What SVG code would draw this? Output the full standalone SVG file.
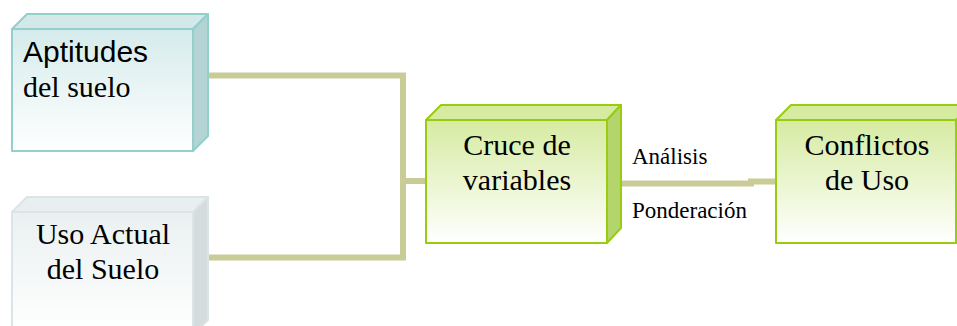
<svg xmlns="http://www.w3.org/2000/svg" width="957" height="326" viewBox="0 0 957 326">
<defs>
<linearGradient id="gTeal" x1="0" y1="0" x2="0" y2="1">
<stop offset="0" stop-color="#d5ebeb"/><stop offset="1" stop-color="#ffffff"/>
</linearGradient>
<linearGradient id="gGray" x1="0" y1="0" x2="0" y2="1">
<stop offset="0" stop-color="#eaf0f1"/><stop offset="1" stop-color="#ffffff"/>
</linearGradient>
<linearGradient id="gGreen" x1="0" y1="0" x2="0" y2="1">
<stop offset="0" stop-color="#d6eba1"/><stop offset="1" stop-color="#ffffff"/>
</linearGradient>
<style>
.conn{fill:none;stroke:#cacc98;stroke-width:6}
.face{stroke-width:2;stroke-linejoin:round}
</style>
</defs>
<g id="connectors">
<polyline class="conn" points="208,75.5 403,75.5 403,257.5 208,257.5"/>
<line class="conn" x1="403" y1="181" x2="426" y2="181"/>
<polyline class="conn" points="621,183.5 751,183.5 751,181.5 776,181.5"/>
</g>
<g id="node-aptitudes">
<g class="face" stroke="#93cfcb">
<polygon fill="#d3e9e9" points="12,29 27,14 208,14 193,29"/>
<polygon fill="#b4d3d4" points="193,29 208,14 208,136 193,151"/>
<rect fill="url(#gTeal)" x="12" y="29" width="181" height="122"/>
</g>
<text font-family="'Liberation Sans'" font-size="30" x="23" y="62">Aptitudes</text>
<text font-family="'Liberation Serif'" font-size="30" x="23" y="97">del suelo</text>
</g>
<g id="node-uso-actual">
<g class="face" stroke="#dbe4e6">
<polygon fill="#e9eff0" points="12,212 27,197 208,197 193,212"/>
<polygon fill="#d4dcde" points="193,212 208,197 208,320 193,335"/>
<rect fill="url(#gGray)" x="12" y="212" width="181" height="123"/>
</g>
<text font-family="'Liberation Serif'" font-size="30" text-anchor="middle" x="103" y="244">Uso Actual</text>
<text font-family="'Liberation Serif'" font-size="30" text-anchor="middle" x="103" y="279">del Suelo</text>
</g>
<g id="node-cruce">
<g class="face" stroke="#99cc11">
<polygon fill="#d4eba0" points="426,120 441,105 621,105 607,120"/>
<polygon fill="#b3d56c" points="607,120 621,105 621,228 607,243"/>
<rect fill="url(#gGreen)" x="426" y="120" width="181" height="123"/>
</g>
<text font-family="'Liberation Serif'" font-size="30" text-anchor="middle" x="517" y="155">Cruce de</text>
<text font-family="'Liberation Serif'" font-size="30" text-anchor="middle" x="517" y="190">variables</text>
</g>
<g id="node-conflictos">
<g class="face" stroke="#99cc11">
<polygon fill="#d4eba0" points="776,120 791,105 971,105 956,120"/>
<polygon fill="#b3d56c" points="956,120 971,105 971,228 956,243"/>
<rect fill="url(#gGreen)" x="776" y="120" width="180" height="123"/>
</g>
<text font-family="'Liberation Serif'" font-size="30" text-anchor="middle" x="867" y="155">Conflictos</text>
<text font-family="'Liberation Serif'" font-size="30" text-anchor="middle" x="867" y="190">de Uso</text>
</g>
<g id="edge-labels">
<text font-family="'Liberation Serif'" font-size="23" x="632" y="164">Análisis</text>
<text font-family="'Liberation Serif'" font-size="23" x="632" y="218">Ponderación</text>
</g>
</svg>
